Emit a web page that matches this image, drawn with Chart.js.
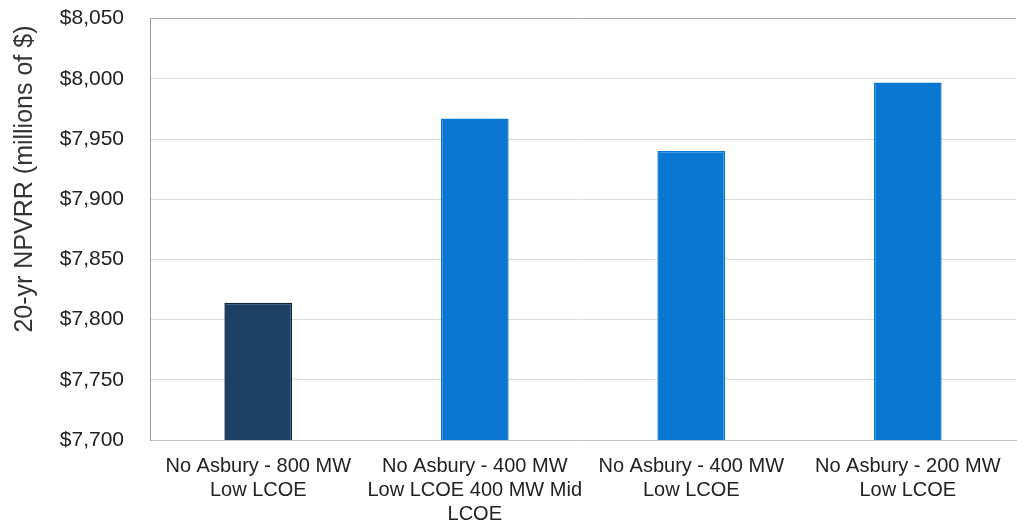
<!DOCTYPE html>
<html>
<head>
<meta charset="utf-8">
<script src="https://cdn.jsdelivr.net/npm/chart.js@4.4.1/dist/chart.umd.min.js"></script>
<style>
  html, body { margin: 0; padding: 0; background: #ffffff; }
  #wrap { width: 1017px; height: 523px; position: relative; }
</style>
</head>
<body>
<div id="wrap"><canvas id="c"></canvas></div>
<script>
const categories = [
  ["No Asbury - 800 MW", "Low LCOE"],
  ["No Asbury - 400 MW", "Low LCOE 400 MW Mid", "LCOE"],
  ["No Asbury - 400 MW", "Low LCOE"],
  ["No Asbury - 200 MW", "Low LCOE"]
];
const npvrrValues = [7814, 7967, 7940, 7997];
const barColors = ["#1d4064", "#0a78d2", "#0a78d2", "#0a78d2"];
const barBorders = ["#0f2136", "#0a78d2", "#0a78d2", "#0a78d2"];
const yMin = 7700, yMax = 8050, yStep = 50;
const yTitle = "20-yr NPVRR (millions of $)";

const FONT = "'Liberation Sans', Arial, sans-serif";

new Chart(document.getElementById('c'), {
  type: 'bar',
  data: {
    labels: categories,
    datasets: [{
      data: npvrrValues,
      backgroundColor: barColors,
      borderColor: barBorders,
      borderWidth: 1.5,
      barPercentage: 0.313,
      categoryPercentage: 1.0
    }]
  },
  options: {
    responsive: true,
    maintainAspectRatio: false,
    animation: false,
    layout: { padding: { top: 0, right: 1, bottom: 0, left: 0 } },
    plugins: { legend: { display: false }, tooltip: { enabled: false } },
    scales: {
      x: {
        grid: { display: false, drawTicks: false },
        border: { display: true, color: '#c4c4c4', width: 1 },
        ticks: {
          color: '#222222',
          font: { family: FONT, size: 20 },
          padding: 14,
          maxRotation: 0,
          autoSkip: false
        },
        afterFit: (s) => { s.height = 83; }
      },
      y: {
        min: yMin,
        max: yMax,
        grid: {
          drawTicks: true,
          tickLength: 20,
          tickColor: 'rgba(0,0,0,0)',
          color: (ctx) => (ctx.tick && ctx.tick.value === yMax) ? '#a8a8a8' : '#dcdcdc',
          lineWidth: 1
        },
        border: { display: true, color: '#9a9a9a', width: 1 },
        ticks: {
          stepSize: yStep,
          color: '#222222',
          font: { family: FONT, size: 21 },
          padding: 6,
          callback: (v) => '$' + Number(v).toLocaleString('en-US')
        },
        title: {
          display: true,
          text: yTitle + ' ',
          align: 'end',
          color: '#333333',
          font: { family: FONT, size: 25 },
          padding: { top: 10, bottom: 0 }
        },
        afterFit: (s) => { s.width = 150; }
      }
    }
  }
});
</script>
</body>
</html>
